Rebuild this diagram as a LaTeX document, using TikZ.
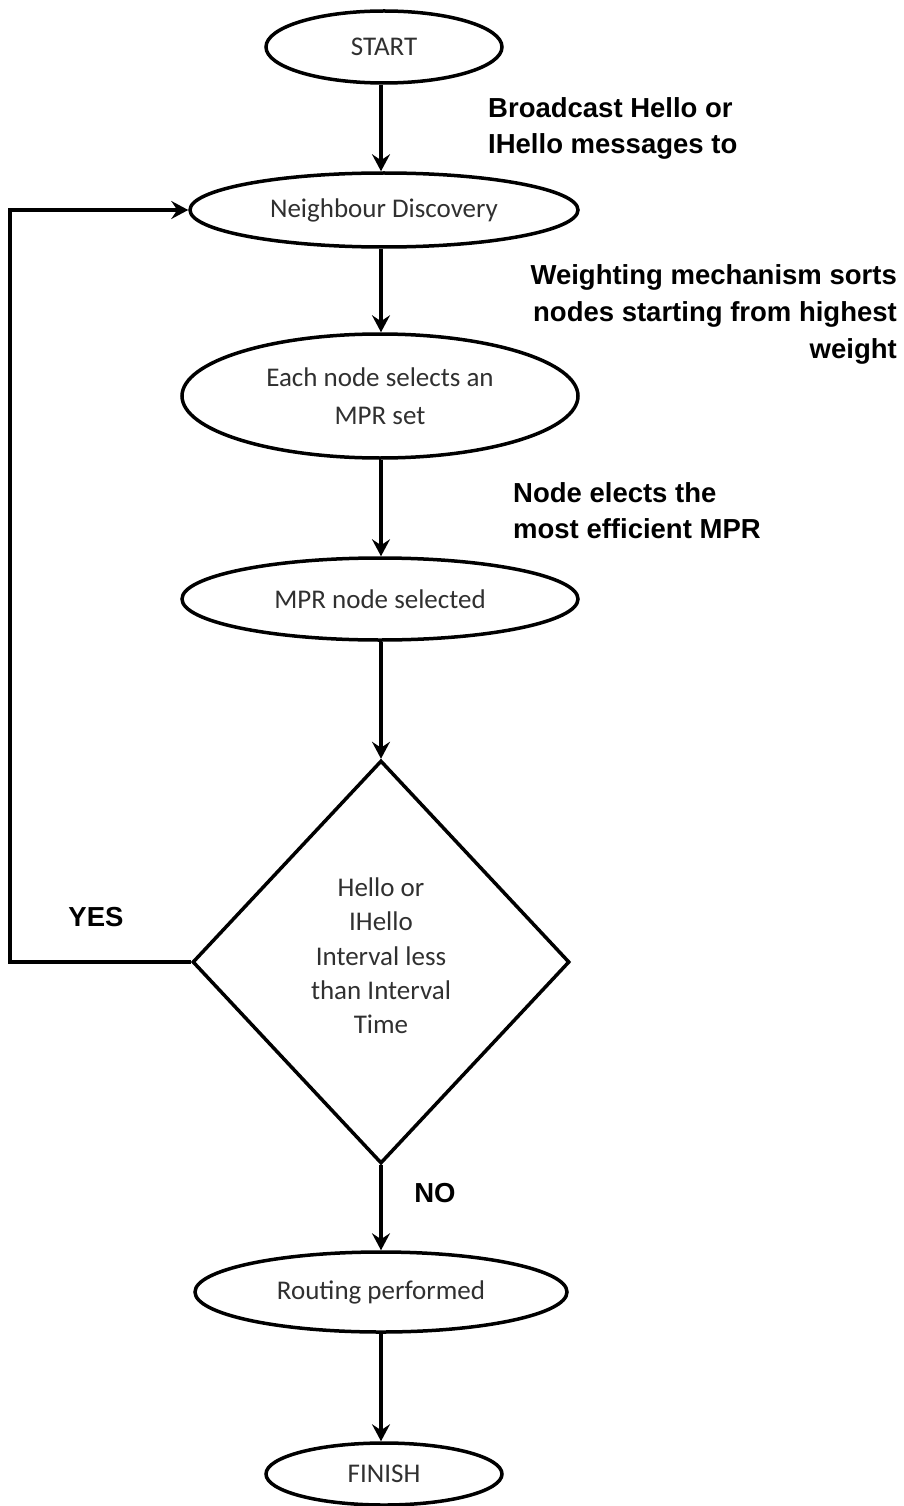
\documentclass[tikz,border=0pt]{standalone}
\usepackage{fontspec}
\setmainfont{Carlito}
\newfontfamily\labelfont{Liberation Sans}
\usetikzlibrary{shapes.geometric,arrows.meta}
\definecolor{boxtext}{HTML}{303030}
\begin{document}
\begin{tikzpicture}[x=1pt,y=-1pt,
  flowline/.style={line width=3.5pt},
  flowarrow/.style={flowline,-{Stealth[length=17pt,width=18pt,inset=6pt]}},
  oval/.style={ellipse,draw,line width=3.5pt,inner sep=0pt,text=boxtext,
    font=\fontsize{27}{38}\selectfont,align=center},
  note/.style={font=\labelfont\bfseries\fontsize{27.5}{36.5}\selectfont,inner sep=0pt},
]
\useasboundingbox (0,0) rectangle (904,1506);
\node[oval,minimum width=236pt,minimum height=72pt] (start) at (384,47) {START};
\node[oval,minimum width=388pt,minimum height=74pt] (nd) at (384,210) {Neighbour Discovery};
\node[oval,minimum width=396pt,minimum height=124pt] (mpr) at (380,396) {Each node selects an\\MPR set};
\node[oval,minimum width=396pt,minimum height=82pt] (sel) at (380,599) {MPR node selected};
\node[diamond,draw,line width=3.5pt,minimum width=377pt,minimum height=403pt,inner sep=0pt] (dec) at (381,962) {};
\node[text=boxtext,align=center,font=\fontsize{27}{34.3}\selectfont,inner sep=0pt] (dectext)
  at ([yshift=6pt]dec.center) {Hello or\\IHello\\Interval less\\than Interval\\Time};
\node[oval,minimum width=372pt,minimum height=80pt] (route) at (381,1292) {Routing performed};
\node[oval,minimum width=236pt,minimum height=62pt] (fin) at (384,1474) {FINISH};

\coordinate (loopbottom) at (10,962);
\coordinate (looptop) at (10,210);

\draw[flowarrow] (start.south -| 381,0) -- (nd.north -| 381,0);
\draw[flowarrow] (nd.south -| 381,0) -- (mpr.north -| 381,0);
\draw[flowarrow] (mpr.south -| 381,0) -- (sel.north -| 381,0);
\draw[flowarrow] (sel.south -| 381,0) -- (dec.north);
\draw[flowarrow] (dec.south) -- (route.north);
\draw[flowarrow] (route.south -| 381,0) -- (fin.north -| 381,0);
\draw[flowarrow,line join=miter] (dec.west) -- (loopbottom) -- (looptop) -- (nd.west);

\node[note,anchor=north west,align=left] (bc) at (488,97) {Broadcast Hello or\\IHello messages to};
\node[note,anchor=north east,align=right,font=\labelfont\bfseries\fontsize{27.5}{37}\selectfont] (wm) at (897,264) {Weighting mechanism sorts\\nodes starting from highest\\weight};
\node[note,anchor=north west,align=left] (ne) at (513,482) {Node elects the\\most efficient MPR};
\node[note,anchor=center] (yes) at (96,917) {YES};
\node[note,anchor=center] (no) at (435,1193) {NO};
\end{tikzpicture}
\end{document}
